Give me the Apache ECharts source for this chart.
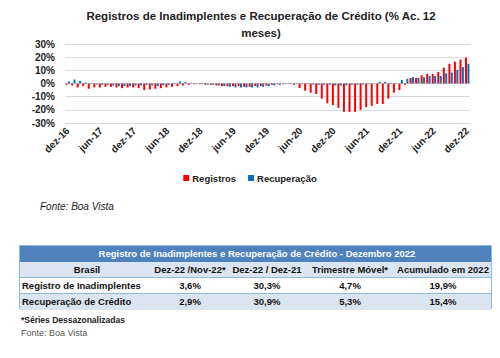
<!DOCTYPE html>
<html><head><meta charset="utf-8">
<script src="https://cdn.jsdelivr.net/npm/echarts@6/dist/echarts.min.js"></script>
<style>
html,body{margin:0;padding:0;background:#fff;}
#wrap{position:relative;width:500px;height:358px;overflow:hidden;font-family:"Liberation Sans",Arial,sans-serif;}
#chart{position:absolute;left:0;top:0;width:500px;height:358px;}
.t{position:absolute;white-space:nowrap;}
#tbl{position:absolute;left:19px;top:245px;width:473px;height:64px;border:1px solid #8fbcd4;box-sizing:border-box;}
.row{position:absolute;left:0;width:100%;height:16px;line-height:16px;font-size:9.5px;color:#111;}
.row span{position:absolute;top:0;white-space:nowrap;transform:translateX(-50%);font-weight:bold;}
</style>
</head><body>
<div id="wrap">
<div id="chart"></div>
<div class="t" style="left:40px;top:201px;font-size:10px;font-style:italic;color:#222;">Fonte: Boa Vista</div>
<div id="tbl"></div>
<div class="t" style="left:21px;top:315px;font-size:8.5px;font-weight:bold;color:#222;">*Séries Dessazonalizadas</div>
<div class="t" style="left:21px;top:328px;font-size:9px;color:#555;">Fonte: Boa Vista</div>
</div>
<script>
const categories = ["dez-16","jan-17","fev-17","mar-17","abr-17","mai-17","jun-17","jul-17","ago-17","set-17","out-17","nov-17",
"dez-17","jan-18","fev-18","mar-18","abr-18","mai-18","jun-18","jul-18","ago-18","set-18","out-18","nov-18",
"dez-18","jan-19","fev-19","mar-19","abr-19","mai-19","jun-19","jul-19","ago-19","set-19","out-19","nov-19",
"dez-19","jan-20","fev-20","mar-20","abr-20","mai-20","jun-20","jul-20","ago-20","set-20","out-20","nov-20",
"dez-20","jan-21","fev-21","mar-21","abr-21","mai-21","jun-21","jul-21","ago-21","set-21","out-21","nov-21",
"dez-21","jan-22","fev-22","mar-22","abr-22","mai-22","jun-22","jul-22","ago-22","set-22","out-22","nov-22","dez-22"];
const registros = [-1,-1.5,-3,-2,-4,-3,-3,-2.5,-2.5,-3,-3.5,-3,
-3,-3.5,-5,-4.5,-4,-3.5,-3,-2.5,-2,-1.5,-1,-0.5,
-0.5,-1,-1,-1.5,-2,-2,-2,-2,-2.5,-2.5,-2,-2,
-1.5,-1,-0.5,-0.5,-0.3,-1,-3.5,-5.5,-7,-8,-11.5,-15,
-16.5,-18.5,-21.5,-21.5,-21.5,-20,-18,-17,-15.5,-15.5,-11.5,-7,
-5,-1,4.2,4.2,6.2,7.3,7.3,8.8,12,15,16.6,18.2,19.7];
const recuperacao = [1.5,3,2,0.8,-0.5,-0.8,-1,-1,-1.5,-2,-2,-2,
-1.5,-1.5,-1,-1.5,-2,-1.5,-1,0.5,1.5,1,0.5,0.3,
-0.5,-0.8,-1,-1.5,-2,-2.5,-3,-3,-3,-3,-3,-2.5,
-2,-1.5,-1,-0.5,-0.3,-0.5,-0.5,-0.5,-0.8,-1,-1,-1,
-1.5,-1.5,-1.5,-1,-1,-0.8,-0.5,0.3,1.3,1.3,0.5,0.3,
2.6,3.6,5,4.2,4.7,5.7,5.7,5.7,7.8,8.3,10.4,12.5,15];
const yTicks = [-30,-20,-10,0,10,20,30];

const tableTitle = "Registro de Inadimplentes e Recuperação de Crédito - Dezembro 2022";
const tableHeader = ["Brasil","Dez-22 /Nov-22*","Dez-22 / Dez-21","Trimestre Móvel*","Acumulado em 2022"];
const tableRows = [
  ["Registro de Inadimplentes","3,6%","30,3%","4,7%","19,9%"],
  ["Recuperação de Crédito","2,9%","30,9%","5,3%","15,4%"]
];

// table (HTML text)
const colX = [67, 170, 247, 330, 423];
const tbl = document.getElementById('tbl');
function mkRow(top, bg, cells, opts) {
  const r = document.createElement('div');
  r.className = 'row';
  r.style.top = top + 'px';
  r.style.background = bg;
  if (opts.border) r.style.borderTop = '1px solid #8fbcd4';
  cells.forEach((c, i) => {
    const s = document.createElement('span');
    s.textContent = c;
    if (i === 0 && opts.leftFirst) { s.style.left = '2px'; s.style.transform = 'none'; s.style.fontSize = '9.5px'; }
    else s.style.left = colX[i] + 'px';
    r.appendChild(s);
  });
  tbl.appendChild(r);
}
(function(){
  const r = document.createElement('div');
  r.className = 'row';
  r.style.top = '0px'; r.style.background = '#4f81bd'; r.style.color = '#fff';
  const s = document.createElement('span');
  s.textContent = tableTitle; s.style.left = '237px'; s.style.fontSize = '9.5px';
  r.appendChild(s); tbl.appendChild(r);
})();
mkRow(16, '#dbe5f1', tableHeader, {});
mkRow(31, '#ffffff', tableRows[0], {leftFirst:true, border:true});
mkRow(47, '#dbe5f1', tableRows[1], {leftFirst:true, border:true});

const chart = echarts.init(document.getElementById('chart'), null, {renderer:'svg'});
chart.setOption({
  animation:false,
  backgroundColor:'#fff',
  textStyle:{fontFamily:'Liberation Sans, Arial, sans-serif'},
  title:{
    text:'Registros de Inadimplentes e Recuperação de Crédito (% Ac. 12\nmeses)',
    left:256, top:2,
    textAlign:'center',
    textStyle:{fontSize:11.5, fontWeight:'bold', color:'#222', lineHeight:17}
  },
  legend:{
    top:168, left:'center',
    itemWidth:6, itemHeight:6, itemGap:12,
    icon:'rect',
    textStyle:{fontSize:9.5, fontWeight:'bold', color:'#222', padding:[0,0,0,-2]},
    data:['Registros','Recuperação']
  },
  grid:{left:65, right:30, top:44, height:79},
  xAxis:{
    type:'category', data:categories,
    axisLine:{show:false}, axisTick:{show:false},
    axisLabel:{interval:5, rotate:45, fontSize:10, fontWeight:'bold', color:'#222', margin:6}
  },
  yAxis:{
    type:'value', min:-30, max:30, interval:10,
    axisLabel:{formatter:'{value}%', fontSize:10, fontWeight:'bold', color:'#222', margin:10},
    splitLine:{lineStyle:{color:'#d9d9d9', width:1}},
    axisLine:{show:false}, axisTick:{show:false}
  },
  series:[
    {name:'Registros', type:'bar', data:registros, itemStyle:{color:'#ff0000'}, barWidth:2, barGap:'20%'},
    {name:'Recuperação', type:'bar', data:recuperacao, itemStyle:{color:'#0070c0'}, barWidth:2}
  ]
});
</script>
</body></html>
